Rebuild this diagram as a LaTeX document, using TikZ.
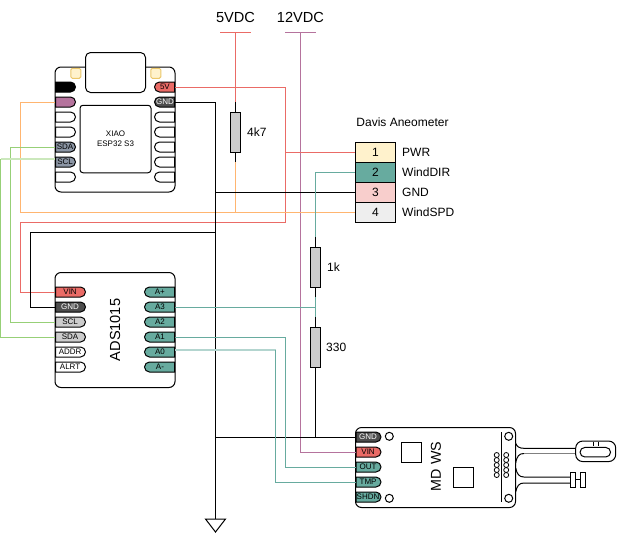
\documentclass[tikz,border=0pt]{standalone}
\usepackage{fontspec}
\setmainfont{Liberation Sans}
\usetikzlibrary{shapes.misc,calc}
\definecolor{wred}{HTML}{EA6B66}
\definecolor{wpur}{HTML}{B5739D}
\definecolor{wgrn}{HTML}{97D077}
\definecolor{wgrnl}{HTML}{CBE8BC}
\definecolor{wora}{HTML}{FFB570}
\definecolor{wtea}{HTML}{67AB9F}
\definecolor{wteal}{HTML}{B3D5CF}
\definecolor{pdark}{HTML}{4D4D4D}
\definecolor{pgray}{HTML}{CCCCCC}
\definecolor{pslate}{HTML}{8C96A5}
\definecolor{cyel}{HTML}{FFF2CC}
\definecolor{cpink}{HTML}{F8CECC}
\definecolor{cgray}{HTML}{EEEEEE}
\definecolor{ledb}{HTML}{EBC76B}
\tikzset{
  x=1pt,y=-1pt,
  body/.style={draw=black,line width=1pt,fill=white,rounded corners=6pt},
  plainbox/.style={draw=black,line width=1pt},
  lpin/.style={rounded rectangle,rounded rectangle west arc=none,draw=black,line width=1pt,minimum height=10pt,inner sep=0pt,font=\fontsize{8}{8}\selectfont,anchor=west},
  rpin/.style={rounded rectangle,rounded rectangle east arc=none,draw=black,line width=1pt,minimum height=10pt,inner sep=0pt,font=\fontsize{8}{8}\selectfont,anchor=east},
  wire/.style={line width=1pt,line join=miter},
  res/.style={draw=black,line width=1pt,fill=pgray,minimum width=10pt,minimum height=40pt,inner sep=0pt},
  lab/.style={font=\fontsize{12}{12}\selectfont,inner sep=0pt},
  big/.style={font=\fontsize{14.6}{14.6}\selectfont,inner sep=0pt},
  cell/.style={draw=black,line width=1pt,minimum width=40pt,minimum height=20pt,inner sep=0pt,font=\fontsize{12}{12}\selectfont},
  hole/.style={draw=black,line width=1pt,fill=white,circle,minimum size=8pt,inner sep=0pt},
  coil/.style={draw=black,line width=.8pt,fill=white,circle,minimum size=5pt,inner sep=0pt},
  led/.style={draw=ledb,fill=cyel,line width=1pt,rounded corners=1.5pt,minimum size=10pt,inner sep=0pt},
}
\begin{document}
\begin{tikzpicture}
\useasboundingbox (0,0) rectangle (617,533);
% ---- XIAO
\draw[body] (55,67) rectangle (175,192);
\node[draw=black,line width=1pt,fill=white,rounded corners=5pt,minimum width=60pt,minimum height=40pt,inner sep=0pt] (xusb) at (115.5,72.5) {};
\node[draw=black,line width=1pt,rounded corners=3pt,minimum width=71pt,minimum height=67.5pt,inner sep=0pt,align=center,font=\fontsize{8}{10}\selectfont] (xchip) at (115.5,139) {XIAO\\ESP32 S3};
\node[led] (xled1) at (75.8,73.3) {};
\node[led] (xled2) at (155.8,73.3) {};
\node[lpin,minimum width=20pt,fill=black] (xblack) at (55,87) {};
\node[lpin,minimum width=20pt,fill=wpur] (xpur) at (55,102) {};
\node[lpin,minimum width=20pt,fill=white] (xl3) at (55,117) {};
\node[lpin,minimum width=20pt,fill=white] (xl4) at (55,132) {};
\node[lpin,minimum width=20pt,fill=pslate] (xsda) at (55,147) {SDA};
\node[lpin,minimum width=20pt,fill=pslate] (xscl) at (55,162) {SCL};
\node[lpin,minimum width=20pt,fill=white] (xl7) at (55,177) {};
\node[rpin,minimum width=20pt,fill=wred] (x5v) at (175,87) {5V};
\node[rpin,minimum width=20pt,fill=pdark,text=white] (xgnd) at (175,102) {GND};
\foreach \n/\y in {3/117,4/132,5/147,6/162,7/177}
  \node[rpin,minimum width=20pt,fill=white] (xr\n) at (175,\y) {};
% ---- ADS1015
\draw[body] (55,272.5) rectangle (175,387.5);
\node[big,rotate=90] (adsname) at (115,330) {ADS1015};
\node[lpin,minimum width=30pt,fill=wred] (avin) at (55,292) {VIN};
\node[lpin,minimum width=30pt,fill=pdark,text=white] (agnd) at (55,307) {GND};
\node[lpin,minimum width=30pt,fill=pgray] (ascl) at (55,322) {SCL};
\node[lpin,minimum width=30pt,fill=pgray] (asda) at (55,337) {SDA};
\node[lpin,minimum width=30pt,fill=white] (aaddr) at (55,352) {ADDR};
\node[lpin,minimum width=30pt,fill=white] (aalrt) at (55,367) {ALRT};
\node[rpin,minimum width=30pt,fill=wtea] (apl) at (175,292) {A+};
\node[rpin,minimum width=30pt,fill=wtea] (a3) at (175,307) {A3};
\node[rpin,minimum width=30pt,fill=wtea] (a2) at (175,322) {A2};
\node[rpin,minimum width=30pt,fill=wtea] (a1) at (175,337) {A1};
\node[rpin,minimum width=30pt,fill=wtea] (a0) at (175,352) {A0};
\node[rpin,minimum width=30pt,fill=wtea] (amn) at (175,367) {A-};
% ---- Anemometer
\node[lab] (dtitle) at (402.5,122) {Davis Aneometer};
\node[cell,fill=cyel] (c1) at (375.5,152) {1};
\node[cell,fill=wtea] (c2) at (375.5,172) {2};
\node[cell,fill=cpink] (c3) at (375.5,192) {3};
\node[cell,fill=cgray] (c4) at (375.5,212) {4};
\node[lab,anchor=west] (l1) at (402,152) {PWR};
\node[lab,anchor=west] (l2) at (402,172) {WindDIR};
\node[lab,anchor=west] (l3) at (402,192) {GND};
\node[lab,anchor=west] (l4) at (402,212) {WindSPD};
% ---- Supplies
\node[big] (v5) at (235.5,17) {5VDC};
\node[big] (v12) at (300.5,17) {12VDC};
\coordinate (b5l) at (220,32.5); \coordinate (b5r) at (250.5,32.5); \coordinate (b5) at (235.5,32.5);
\coordinate (b12l) at (285,32.5); \coordinate (b12r) at (315.5,32.5); \coordinate (b12) at (300.5,32.5);
% ---- Resistors
\node[res] (r47) at (235.5,132) {};
\node[lab,anchor=west] (t47) at (247,132) {4k7};
\node[res] (r1k) at (315.5,267) {};
\node[lab,anchor=west] (t1k) at (327,267) {1k};
\node[res] (r330) at (315.5,347) {};
\node[lab,anchor=west] (t330) at (326,347) {330};
% ---- MD WS
\draw[body] (355.5,427.5) rectangle (515.5,507.5);
\node[big,rotate=90,font=\fontsize{14.3}{14.3}\selectfont] (mdname) at (436,466.5) {MD WS};
\node[plainbox,minimum size=20pt,inner sep=0pt,fill=white] (ms1) at (411.7,452.3) {};
\node[plainbox,minimum size=20pt,inner sep=0pt,fill=white] (ms2) at (463.3,477.3) {};
\node[hole] (mh1) at (389.3,436.3) {};
\node[hole] (mh2) at (389.3,498.3) {};
\node[hole] (mh3) at (508.7,436.3) {};
\node[hole] (mh4) at (508.7,498.3) {};
\coordinate (mlt) at (501.7,432.3); \coordinate (mlb) at (501.7,502.3);
\draw[line width=1pt] (mlt) -- (mlb);
\foreach \y in {455,460,465,470,475}{
  \node[coil] at (496.7,\y) {};
  \node[coil] at (506.2,\y) {};
}
\node[lpin,minimum width=25pt,fill=pdark,text=white] (mgnd) at (355.5,437) {GND};
\node[lpin,minimum width=25pt,fill=wred] (mvin) at (355.5,452) {VIN};
\node[lpin,minimum width=25pt,fill=wtea] (mout) at (355.5,467) {OUT};
\node[lpin,minimum width=25pt,fill=wtea] (mtmp) at (355.5,482) {TMP};
\node[lpin,minimum width=25pt,fill=wtea] (mshdn) at (355.5,497) {SHDN};
% sensors
\draw[line width=1pt,fill=white] (515.7,443.3) .. controls (517,446.5) and (519,448.3) .. (524,448.3) -- (576,448.3);
\draw[line width=1pt,fill=white] (515.7,463) .. controls (517,456) and (519,453.5) .. (524,453.5);
\draw[line width=1.6pt,black!50] (524,453.5) -- (576,453.5);
\draw[line width=1pt] (515.7,468) .. controls (517,474) and (519,477) .. (524,477) -- (571,477);
\draw[line width=1pt] (515.7,491.7) .. controls (517,486) and (519,483) .. (524,483) -- (571,483);
\node[draw=black,line width=1pt,fill=white,rounded corners=7pt,minimum width=40pt,minimum height=20.5pt,inner sep=0pt] (tube) at (595.7,451.3) {};
\node[draw=black,line width=1pt,fill=white,rounded rectangle,minimum width=30.5pt,minimum height=9.5pt,inner sep=0pt] (tubei) at (595.3,452.2) {};
\draw[line width=.8pt] (593.3,441.5) -- (593.3,445.7);
\draw[line width=.8pt] (598.3,441.5) -- (598.3,445.7);
\node[plainbox,fill=white,minimum width=5pt,minimum height=15pt,inner sep=0pt] (cap1) at (573.2,479.8) {};
\node[plainbox,fill=white,minimum width=5pt,minimum height=15pt,inner sep=0pt] (cap2) at (583.2,479.8) {};
\draw[line width=1pt] (cap1.east) -- (cap2.west);
% ---- Wires
\draw[wire,wred] (b5l) -- (b5r);
\draw[wire,wpur] (b12l) -- (b12r);
\draw[wire,wred] (b5) -- (235.5,102);
\draw[wire] (235.5,102) -- (r47.north);
\draw[wire] (r47.south) -- (235.5,162);
\draw[wire,wora] (235.5,162) -- (235.5,212);
\draw[wire,wpur] (b12) |- (mvin.west);
\draw[wire,wred] (x5v.east) -| (285.5,222) -| (20.5,292) -- (avin.west);
\draw[wire,wred] (285.5,152) -- (c1.west);
\draw[wire,wora] (xpur.west) -| (20.5,212) -- (c4.west);
\coordinate (gtop) at (215.5,519);
\draw[wire,black] (xgnd.east) -| (gtop);
\draw[wire,black] (215.5,192) -- (c3.west);
\draw[wire,black] (215.5,232) -| (30.5,307) -- (agnd.west);
\draw[wire,black] (215.5,437) -- (mgnd.west);
\draw[wire,wtea] (c2.west) -| (315.5,237);
\draw[wire] (315.5,237) -- (r1k.north);
\draw[wire] (r1k.south) -- (315.5,297);
\draw[wire,wtea] (315.5,297) -- (315.5,317);
\draw[wire] (315.5,317) -- (r330.north);
\draw[wire] (r330.south) -- (315.5,437);
\draw[wire,wtea] (a3.east) -- (315.5,307);
\draw[wire,wtea] (a1.east) -| (285.5,467) -- (mout.west);
\draw[line width=2pt,wteal] (a0.east |- 0,350.3) -- (276,350.3);
\draw[wire,wtea] (275.5,350) |- (mtmp.west);
\draw[wire,wgrn] (xsda.west) -| (10.5,322) -- (ascl.west);
\draw[line width=2pt,wgrnl] (xscl.west |- 0,159) -- (0.5,159);
\draw[wire,wgrn] (0.5,159) |- (asda.west);
\draw[line width=1pt,fill=white] (205.5,519) -- (225.5,519) -- (215.5,532) -- cycle;
\end{tikzpicture}
\end{document}
